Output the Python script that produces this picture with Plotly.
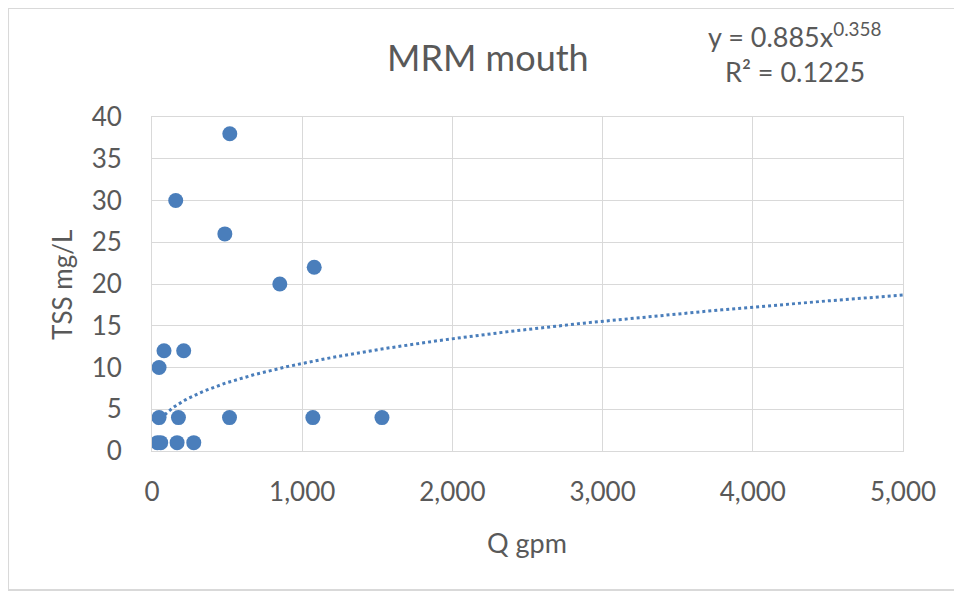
import numpy as np
import plotly.graph_objects as go

# Data
q_gpm = [518, 158, 485, 851, 1080, 80, 211, 47, 47, 176, 516, 1071, 1531, 36, 58, 167, 278]
tss_mgL = [38, 30, 26, 20, 22, 12, 12, 10, 4, 4, 4, 4, 4, 1, 1, 1, 1]

# Power trendline (as reported on chart)
coef_a = 0.885
coef_b = 0.358
r_squared = 0.1225
x_tick_vals = [0, 1000, 2000, 3000, 4000, 5000]
y_tick_vals = [0, 5, 10, 15, 20, 25, 30, 35, 40]

blue = "#4a7ebb"
grey_text = "#595959"
grid = "#d9d9d9"
font_family = "Lato, 'Open Sans', sans-serif"

trend_x = np.linspace(min(q_gpm), 5000, 400)
trend_y = coef_a * trend_x ** coef_b

fig = go.Figure()
fig.add_trace(go.Scatter(x=trend_x, y=trend_y, mode="lines",
                         line=dict(color=blue, width=3, dash="dot"),
                         hoverinfo="skip", showlegend=False))
fig.add_trace(go.Scatter(x=q_gpm, y=tss_mgL, mode="markers",
                         marker=dict(color=blue, size=15, line=dict(width=0)),
                         showlegend=False))

fig.update_layout(
    width=954, height=583,
    margin=dict(l=144, r=59, t=109, b=140),
    paper_bgcolor="white", plot_bgcolor="white",
    font=dict(family=font_family, color=grey_text, size=25),
    xaxis=dict(range=[0, 5000], tickvals=x_tick_vals, tickformat=",",
               showgrid=True, gridcolor=grid, gridwidth=1,
               showline=True, linecolor=grid, linewidth=1, mirror=True,
               zeroline=False, ticks="", ticklabelstandoff=18,
               tickfont=dict(size=26, color=grey_text)),
    yaxis=dict(range=[0, 40], tickvals=y_tick_vals,
               showgrid=True, gridcolor=grid, gridwidth=1,
               showline=True, linecolor=grid, linewidth=1, mirror=True,
               zeroline=False, ticks="", ticklabelstandoff=24,
               tickfont=dict(size=26, color=grey_text)),
    shapes=[dict(type="rect", xref="paper", yref="paper",
                 x0=-0.1917, x1=1.25, y0=-0.416, y1=1.326,
                 line=dict(color="#d9d9d9", width=2), layer="below")],
    annotations=[
        dict(text="MRM mouth", xref="paper", yref="paper", x=0.447, y=1.18,
             showarrow=False, font=dict(size=36, color=grey_text), xanchor="center", yanchor="middle"),
        dict(text=f"y = {coef_a}x<sup>{coef_b}</sup>", xref="paper", yref="paper", x=0.856, y=1.246,
             showarrow=False, font=dict(size=27, color=grey_text), xanchor="center", yanchor="middle"),
        dict(text=f"R² = {r_squared}", xref="paper", yref="paper", x=0.856, y=1.135,
             showarrow=False, font=dict(size=27, color=grey_text), xanchor="center", yanchor="middle"),
        dict(text="Q gpm", xref="paper", yref="paper", x=0.4993, y=-0.275,
             showarrow=False, font=dict(size=27, color=grey_text), xanchor="center", yanchor="middle"),
        dict(text="TSS mg/L", xref="paper", yref="paper", x=-0.12, y=0.497, textangle=-90,
             showarrow=False, font=dict(size=26, color=grey_text), xanchor="center", yanchor="middle"),
    ],
)

fig.write_html("out.html")
